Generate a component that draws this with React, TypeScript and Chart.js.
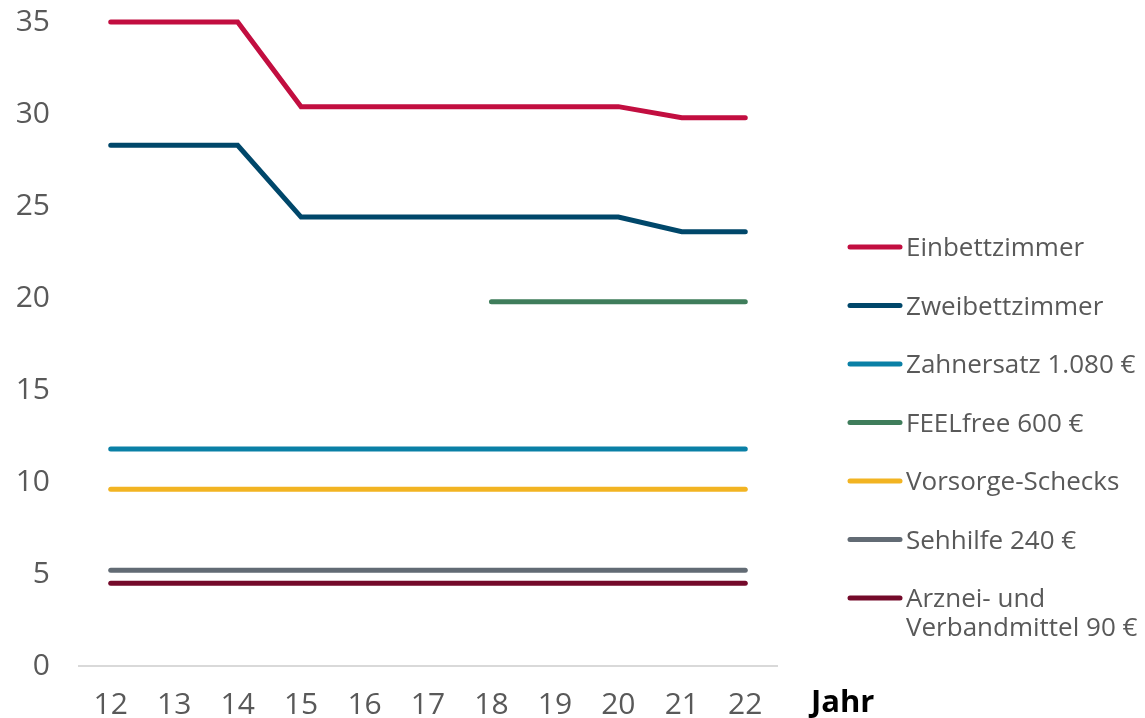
import React, { useEffect, useRef } from "react";
import { Chart, registerables } from "chart.js";

Chart.register(...registerables);

const years = ["12", "13", "14", "15", "16", "17", "18", "19", "20", "21", "22"];

const einbettzimmer = [35, 35, 35, 30.4, 30.4, 30.4, 30.4, 30.4, 30.4, 29.8, 29.8];
const zweibettzimmer = [28.3, 28.3, 28.3, 24.4, 24.4, 24.4, 24.4, 24.4, 24.4, 23.6, 23.6];
const zahnersatz = [11.8, 11.8, 11.8, 11.8, 11.8, 11.8, 11.8, 11.8, 11.8, 11.8, 11.8];
const feelfree = [null, null, null, null, null, null, 19.8, 19.8, 19.8, 19.8, 19.8];
const vorsorge = [9.6, 9.6, 9.6, 9.6, 9.6, 9.6, 9.6, 9.6, 9.6, 9.6, 9.6];
const sehhilfe = [5.2, 5.2, 5.2, 5.2, 5.2, 5.2, 5.2, 5.2, 5.2, 5.2, 5.2];
const arznei = [4.5, 4.5, 4.5, 4.5, 4.5, 4.5, 4.5, 4.5, 4.5, 4.5, 4.5];

const seriesLabels = [
  "Einbettzimmer",
  "Zweibettzimmer",
  "Zahnersatz 1.080 €",
  "FEELfree 600 €",
  "Vorsorge-Schecks",
  "Sehhilfe 240 €",
  "Arznei- und\nVerbandmittel 90 €",
];
const seriesColors = ["#C20E40", "#00476A", "#0A80A6", "#3F7D5B", "#F2B422", "#626B74", "#740A2A"];
const seriesData = [einbettzimmer, zweibettzimmer, zahnersatz, feelfree, vorsorge, sehhilfe, arznei];

const yTicks = [0, 5, 10, 15, 20, 25, 30, 35];

const FONT = "'Open Sans', 'Noto Sans', sans-serif";
const TEXT = "#595959";

const legendPlugin = {
  id: "customLegend",
  afterDraw(chart: any) {
    const ctx = chart.ctx;
    const startY = 247;
    const step = 58.5;
    ctx.save();
    chart.data.datasets.forEach((ds: any, i: number) => {
      const y = startY + i * step;
      ctx.strokeStyle = ds.borderColor;
      ctx.lineWidth = 5;
      ctx.lineCap = "round";
      ctx.beginPath();
      ctx.moveTo(850, y);
      ctx.lineTo(900, y);
      ctx.stroke();
      ctx.fillStyle = TEXT;
      ctx.font = `26px ${FONT}`;
      ctx.textAlign = "left";
      ctx.textBaseline = "middle";
      String(ds.label)
        .split("\n")
        .forEach((line: string, j: number) => {
          ctx.fillText(line, 906, y + 2 + j * 29);
        });
    });
    ctx.fillStyle = "#000";
    ctx.font = `bold 31px ${FONT}`;
    ctx.textAlign = "left";
    ctx.textBaseline = "middle";
    ctx.fillText("Jahr", 811, 703);
    ctx.restore();
  },
};

export default function App() {
  const canvasRef = useRef<HTMLCanvasElement | null>(null);

  useEffect(() => {
    document.body.style.margin = "0";
    const canvas = canvasRef.current;
    if (!canvas) return;
    const chart = new Chart(canvas, {
      type: "line",
      data: {
        labels: years,
        datasets: seriesData.map((d, i) => ({
          label: seriesLabels[i],
          data: d,
          borderColor: seriesColors[i],
          backgroundColor: seriesColors[i],
          borderWidth: 5,
          borderCapStyle: "round",
          borderJoinStyle: "miter",
          pointRadius: 0,
          pointHoverRadius: 0,
          tension: 0,
          fill: false,
          clip: false,
        })) as any,
      },
      options: {
        animation: false,
        responsive: true,
        maintainAspectRatio: false,
        layout: { padding: { top: 22, right: 368, left: 0, bottom: 0 } },
        plugins: {
          legend: { display: false },
          tooltip: { enabled: false },
        },
        scales: {
          x: {
            offset: true,
            grid: { display: false, drawTicks: false },
            border: { display: true, color: "#D9D9D9", width: 2 },
            ticks: {
              color: TEXT,
              font: { family: FONT, size: 30 },
              padding: 21,
              maxRotation: 0,
              autoSkip: false,
            },
            afterFit(scale: any) {
              scale.height = 52;
              scale.paddingLeft = 0;
              scale.paddingRight = 0;
            },
          },
          y: {
            min: 0,
            max: 35,
            afterBuildTicks(scale: any) {
              scale.ticks = yTicks.map((v) => ({ value: v }));
            },
            grid: { display: false, drawTicks: false },
            border: { display: false },
            ticks: {
              color: TEXT,
              font: { family: FONT, size: 30 },
              padding: 29,
            },
            afterFit(scale: any) {
              scale.width = 79;
              scale.paddingTop = 0;
              scale.paddingBottom = 0;
            },
          },
        },
      },
      plugins: [legendPlugin],
    });
    return () => chart.destroy();
  }, []);

  return (
    <div style={{ width: 1145, height: 718, position: "relative" }}>
      <canvas ref={canvasRef} />
    </div>
  );
}
